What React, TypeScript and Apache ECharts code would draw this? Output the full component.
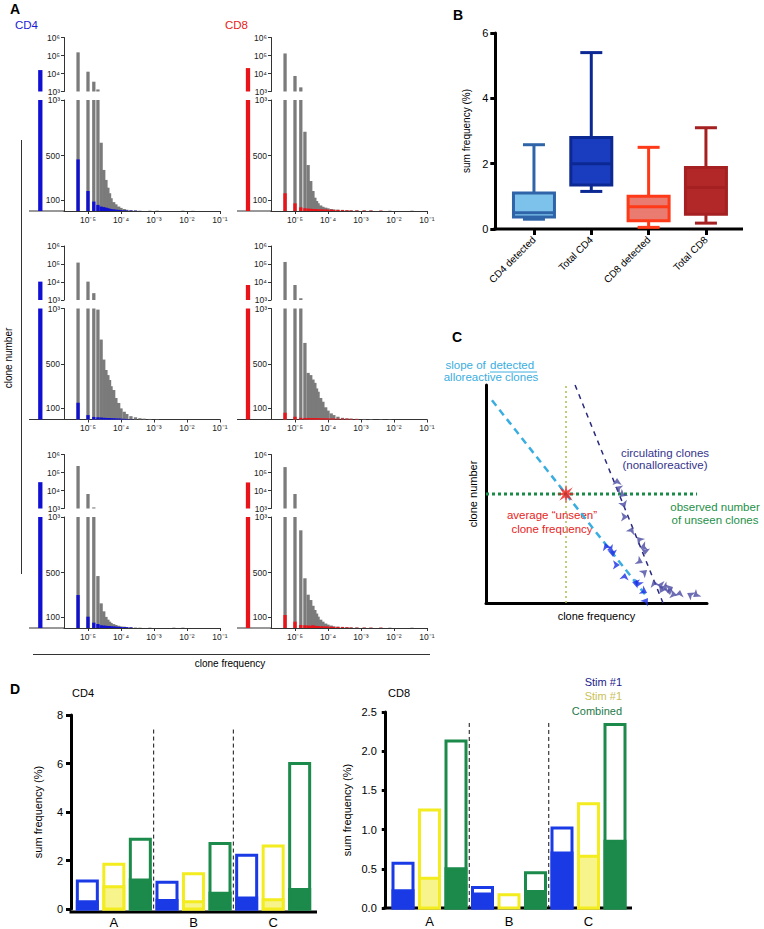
import React, { useEffect, useRef } from "react";
import * as echarts from "echarts";

const FONT = "'Liberation Sans', Arial, Helvetica, sans-serif";

// ---------------- Panel A data ----------------
const BIN_FREQ = [5e-6, 1e-5, 1.5e-5, 2e-5, 2.5e-5, 3e-5, 3.5e-5, 4e-5, 4.5e-5, 5e-5, 6e-5, 7e-5, 8.5e-5, 1e-4, 1.25e-4, 1.5e-4, 2e-4, 2.75e-4, 3.75e-4, 5e-4, 7.5e-4, 1.25e-3, 2e-3, 4e-3, 7.5e-3, 1.5e-2, 3.5e-2];

const GRAY_CD4_R1 = [150000, 12600, 3500, 1300, 615, 370, 280, 210, 160, 115, 80, 60, 40, 28, 18, 12, 8, 5, 3, 0, 3, 3, 0, 0, 3, 2, 0];
const DET_CD4_R1 = [465, 180, 85, 55, 40, 35, 30, 25, 20, 18, 15, 12, 10, 8, 6, 5, 4, 3, 0, 0, 0, 0, 0, 0, 0, 0, 0];
const GRAY_CD8_R1 = [130000, 7300, 1700, 714, 414, 270, 180, 120, 90, 70, 50, 38, 30, 24, 18, 14, 12, 10, 8, 6, 6, 5, 5, 3, 3, 0, 3];
const DET_CD8_R1 = [160, 69, 33, 25, 22, 20, 18, 18, 16, 15, 15, 14, 13, 12, 12, 10, 10, 8, 6, 5, 5, 4, 4, 3, 0, 0, 0];
const GRAY_CD4_R2 = [120000, 10500, 2400, 990, 720, 540, 446, 400, 356, 300, 266, 194, 149, 100, 70, 50, 30, 20, 12, 8, 5, 3, 0, 0, 0, 0, 0];
const DET_CD4_R2 = [151, 40, 23, 20, 18, 15, 14, 13, 12, 12, 11, 10, 9, 8, 6, 5, 3, 0, 0, 0, 0, 0, 0, 0, 0, 0, 0];
const GRAY_CD8_R2 = [130000, 6800, 1250, 690, 420, 400, 360, 330, 280, 250, 194, 160, 110, 80, 55, 40, 25, 15, 10, 8, 6, 5, 4, 3, 3, 0, 0];
const DET_CD8_R2 = [61, 25, 15, 14, 14, 13, 13, 12, 12, 12, 11, 11, 10, 10, 9, 9, 8, 8, 8, 6, 5, 0, 0, 0, 0, 0, 0];
const GRAY_CD4_R3 = [230000, 6400, 1150, 468, 222, 150, 100, 75, 57, 45, 35, 27, 20, 14, 12, 9, 7, 4, 3, 0, 3, 0, 0, 3, 3, 0, 0];
const DET_CD4_R3 = [297, 102, 48, 36, 25, 22, 20, 18, 17, 15, 14, 12, 10, 9, 8, 6, 5, 0, 0, 0, 0, 0, 0, 0, 0, 0, 0];
const GRAY_CD8_R3 = [200000, 6400, 880, 448, 300, 252, 200, 162, 130, 102, 75, 57, 40, 30, 22, 15, 12, 10, 8, 6, 5, 4, 3, 3, 3, 0, 3];
const DET_CD8_R3 = [117, 57, 27, 25, 22, 20, 25, 20, 18, 18, 15, 15, 14, 13, 12, 10, 10, 8, 6, 4, 3, 3, 3, 3, 0, 0, 0];
const TOTAL_CD4 = [15500, 10500, 29000];
const TOTAL_CD8 = [20000, 6800, 28000];

const X_TICKS = [1e-5, 1e-4, 1e-3, 1e-2, 1e-1];
const Y_UP_TICKS = [1e3, 1e4, 1e5, 1e6];
const Y_LOW_TICKS = [100, 500, 1000];

// ---------------- Panel B data ----------------
const B_CATS = ["CD4 detected", "Total CD4", "CD8 detected", "Total CD8"];
const B_MIN = [0.3, 1.15, 0.05, 0.18];
const B_Q1 = [0.37, 1.35, 0.25, 0.45];
const B_MED = [0.5, 2.0, 0.68, 1.27];
const B_Q3 = [1.1, 2.8, 1.0, 1.88];
const B_MAX = [2.58, 5.4, 2.5, 3.1];

// ---------------- Panel C data (schematic units 0-100) ----------------
const C_DETECTED_SLOPE = [[2.7, 93], [72.9, 2.8]];
const C_CIRC_SLOPE = [[40.3, 100], [80.1, 0]];
const C_UNSEEN_NUMBER = [[0, 50], [95.5, 50]];
const C_UNSEEN_FREQ = [[36.2, 0], [36.2, 100]];
const C_STAR = [[36.2, 50]];
const C_CIRC_PTS = [[59.3, 57.3], [58.4, 53.2], [60.6, 48.6], [62.9, 43.6], [64.3, 39.4], [66.5, 34.9], [68.3, 30.3], [69.7, 25.2], [71.9, 22.0], [71.0, 18.3], [72.9, 15.1], [75.6, 10.6], [77.4, 8.3], [78.7, 4.6], [81.9, 6.0], [84.6, 7.3], [87.8, 6.0], [91.0, 4.6], [93.7, 2.8], [83.3, 3.7], [86.4, 3.7]];
const C_DET_PTS = [[53.8, 27.5], [54.8, 24.3], [57.5, 21.1], [60.6, 17.4], [62.9, 13.8], [66.1, 9.6], [68.3, 7.3], [72.9, 4.6], [73.3, 2.3]];

// ---------------- Panel D data ----------------
const D_GROUPS = ["A", "B", "C"];
const D_CD4_STIM1_TOTAL = [1.15, 1.1, 2.22];
const D_CD4_STIM1_SOLID = [0.3, 0.35, 0.45];
const D_CD4_STIM2_TOTAL = [1.85, 1.45, 2.6];
const D_CD4_STIM2_SOLID = [0.92, 0.3, 0.38];
const D_CD4_COMB_TOTAL = [2.88, 2.7, 6.0];
const D_CD4_COMB_SOLID = [1.2, 0.65, 0.8];
const D_CD8_STIM1_TOTAL = [0.57, 0.26, 1.02];
const D_CD8_STIM1_SOLID = [0.22, 0.18, 0.7];
const D_CD8_STIM2_TOTAL = [1.25, 0.17, 1.33];
const D_CD8_STIM2_SOLID = [0.38, 0, 0.66];
const D_CD8_COMB_TOTAL = [2.13, 0.45, 2.34];
const D_CD8_COMB_SOLID = [0.5, 0.21, 0.85];

// ---------------- styling ----------------
const BLUE = "#1010d2";
const RED = "#e8141a";
const GRAY = "#7b7b7b";
const AXC = "#333";
const B_FILL = ["#7cc2ea", "#1a3cbf", "#ea7b70", "#b22828"];
const B_STROKE = ["#2f64a8", "#0c2893", "#ff3a18", "#a52020"];
const D_COL = [
  { stroke: "#1a3ae6", fill: "#1a3ae6" },
  { stroke: "#f3ec1e", fill: "#f7f48c" },
  { stroke: "#1b8a4a", fill: "#1b8a4a" },
];

const SUP: Record<string, string> = { "-": "\u207B", "0": "\u2070", "1": "\u00B9", "2": "\u00B2", "3": "\u00B3", "4": "\u2074", "5": "\u2075", "6": "\u2076" };
const pow10 = (v: number) => {
  const e = Math.round(Math.log10(v));
  return "10" + String(e).split("").map((c) => SUP[c]).join("");
};

const ASTERISK = (() => {
  const pts: string[] = [];
  for (let i = 0; i < 16; i++) {
    const a = (i * Math.PI) / 8 - Math.PI / 2;
    const r = i % 2 === 0 ? 10 : 3.6;
    pts.push(`${(10 + r * Math.cos(a)).toFixed(2)} ${(10 + r * Math.sin(a)).toFixed(2)}`);
  }
  return "path://M" + pts.join(" L") + " Z";
})();

function buildOption() {
  const grid: any[] = [];
  const xAxis: any[] = [];
  const yAxis: any[] = [];
  const series: any[] = [];
  const graphic: any[] = [];

  const COLS = [
    { axisX: 64, totalX: 40.3, baseStart: 29 },
    { axisX: 271, totalX: 248, baseStart: 237 },
  ];
  const ROW_DY = 208.5;
  const UP_TOP = 37.5, UP_H = 54, LOW_TOP = 100, LOW_H = 111, HIST_W = 156;
  const XMIN = 1.875e-6;

  const panels = [
    { row: 0, col: 0, gray: GRAY_CD4_R1, det: DET_CD4_R1, total: TOTAL_CD4[0], color: BLUE },
    { row: 0, col: 1, gray: GRAY_CD8_R1, det: DET_CD8_R1, total: TOTAL_CD8[0], color: RED },
    { row: 1, col: 0, gray: GRAY_CD4_R2, det: DET_CD4_R2, total: TOTAL_CD4[1], color: BLUE },
    { row: 1, col: 1, gray: GRAY_CD8_R2, det: DET_CD8_R2, total: TOTAL_CD8[1], color: RED },
    { row: 2, col: 0, gray: GRAY_CD4_R3, det: DET_CD4_R3, total: TOTAL_CD4[2], color: BLUE },
    { row: 2, col: 1, gray: GRAY_CD8_R3, det: DET_CD8_R3, total: TOTAL_CD8[2], color: RED },
  ];

  const barRender = (lo: number, hi: number, w: number, fill: string) => (params: any, api: any) => {
    const x = api.value(0);
    const v = api.value(1);
    if (!(v > lo)) return null;
    const top = Math.min(v, hi);
    const p0 = api.coord([x, lo]);
    const p1 = api.coord([x, top]);
    return { type: "rect", shape: { x: p0[0] - w / 2, y: p1[1], width: w, height: p0[1] - p1[1] }, style: { fill } };
  };

  const lblStyle = { fontSize: 8.5, color: "#222", fontFamily: FONT };

  panels.forEach((p) => {
    const c = COLS[p.col];
    const dy = p.row * ROW_DY;
    const g0 = grid.length;
    grid.push({ left: c.axisX, top: UP_TOP + dy, width: HIST_W, height: UP_H });
    grid.push({ left: c.axisX, top: LOW_TOP + dy, width: HIST_W, height: LOW_H });
    grid.push({ left: c.totalX - 5, top: UP_TOP + dy, width: 10, height: UP_H });
    grid.push({ left: c.totalX - 5, top: LOW_TOP + dy, width: 10, height: LOW_H });

    xAxis.push({ gridIndex: g0, type: "log", min: XMIN, max: 0.1, show: false });
    xAxis.push({
      gridIndex: g0 + 1, type: "log", min: XMIN, max: 0.1,
      axisLine: { show: true, lineStyle: { color: AXC, width: 1 } },
      axisTick: { show: true, customValues: X_TICKS, length: 3, lineStyle: { color: AXC } },
      axisLabel: { customValues: X_TICKS, formatter: (v: number) => pow10(v), margin: 4, ...lblStyle },
      splitLine: { show: false },
    });
    xAxis.push({ gridIndex: g0 + 2, type: "value", min: 0, max: 1, show: false });
    xAxis.push({ gridIndex: g0 + 3, type: "value", min: 0, max: 1, show: false });

    yAxis.push({
      gridIndex: g0, type: "log", min: 1e3, max: 1e6,
      axisLine: { show: true, lineStyle: { color: AXC, width: 1 } },
      axisTick: { show: true, customValues: Y_UP_TICKS, length: 3, lineStyle: { color: AXC } },
      axisLabel: { customValues: Y_UP_TICKS, formatter: (v: number) => pow10(v), margin: 4, ...lblStyle },
      splitLine: { show: false },
    });
    yAxis.push({
      gridIndex: g0 + 1, type: "value", min: 0, max: 1000,
      axisLine: { show: true, lineStyle: { color: AXC, width: 1 } },
      axisTick: { show: true, customValues: Y_LOW_TICKS, length: 3, lineStyle: { color: AXC } },
      axisLabel: { customValues: Y_LOW_TICKS, formatter: (v: number) => (v === 1000 ? pow10(1000) : String(v)), margin: 4, ...lblStyle },
      splitLine: { show: false },
    });
    yAxis.push({ gridIndex: g0 + 2, type: "log", min: 1e3, max: 1e6, show: false });
    yAxis.push({ gridIndex: g0 + 3, type: "value", min: 0, max: 1000, show: false });

    const grayData = BIN_FREQ.map((f, i) => [f, p.gray[i]]);
    const detData = BIN_FREQ.map((f, i) => [f, p.det[i]]);
    series.push({
      type: "custom", xAxisIndex: g0, yAxisIndex: g0, silent: true,
      data: grayData.filter((d) => d[1] > 1000), encode: { x: 0, y: 1 },
      renderItem: barRender(1e3, 1e6, 3.3, GRAY),
    });
    series.push({
      type: "custom", xAxisIndex: g0 + 1, yAxisIndex: g0 + 1, silent: true,
      data: grayData, encode: { x: 0, y: 1 },
      renderItem: barRender(0, 1000, 3.3, GRAY),
    });
    series.push({
      type: "custom", xAxisIndex: g0 + 1, yAxisIndex: g0 + 1, silent: true,
      data: detData, encode: { x: 0, y: 1 },
      renderItem: barRender(0, 1000, 3.3, p.color),
    });
    series.push({
      type: "custom", xAxisIndex: g0 + 2, yAxisIndex: g0 + 2, silent: true,
      data: [[0.5, p.total]], encode: { x: 0, y: 1 },
      renderItem: barRender(1e3, 1e6, 4.3, p.color),
    });
    series.push({
      type: "custom", xAxisIndex: g0 + 3, yAxisIndex: g0 + 3, silent: true,
      data: [[0.5, p.total]], encode: { x: 0, y: 1 },
      renderItem: barRender(0, 1000, 4.3, p.color),
    });

    const by = LOW_TOP + LOW_H + dy;
    graphic.push({ type: "line", shape: { x1: c.baseStart, y1: by, x2: c.axisX, y2: by }, style: { stroke: AXC, lineWidth: 1 } });
  });

  // ---------------- Panel B ----------------
  const gB = grid.length;
  grid.push({ left: 505.3, top: 33, width: 229.3, height: 196 });
  xAxis.push({
    gridIndex: gB, type: "category", data: B_CATS,
    axisLine: { show: false },
    axisTick: { show: true, alignWithLabel: true, length: 6, lineStyle: { color: "#000", width: 3 } },
    axisLabel: { rotate: 45, interval: 0, fontSize: 10, color: "#000", margin: 9, fontFamily: FONT },
  });
  yAxis.push({
    gridIndex: gB, type: "value", min: 0, max: 6, interval: 2, offset: 10,
    axisLine: { show: true, lineStyle: { color: "#000", width: 3 } },
    axisTick: { show: true, length: 5, lineStyle: { color: "#000", width: 3 } },
    axisLabel: { fontSize: 11, color: "#000", margin: 7, fontFamily: FONT },
    splitLine: { show: false },
    name: "sum frequency (%)", nameLocation: "middle", nameGap: 24,
    nameTextStyle: { fontSize: 10, color: "#000", fontFamily: FONT },
  });
  series.push({
    type: "custom", xAxisIndex: gB, yAxisIndex: gB, silent: true,
    encode: { x: 0, y: [1, 2, 3, 4, 5] },
    data: B_CATS.map((_, i) => [i, B_MIN[i], B_Q1[i], B_MED[i], B_Q3[i], B_MAX[i]]),
    renderItem: (params: any, api: any) => {
      const i = api.value(0);
      const cx = api.coord([i, 0])[0];
      const yv = [1, 2, 3, 4, 5].map((k) => api.coord([i, api.value(k)])[1]);
      const [yMin, yQ1, yMed, yQ3, yMax] = yv;
      const s = B_STROKE[i];
      const ls = { stroke: s, lineWidth: 3 };
      const bw = 41, cw = 22;
      return {
        type: "group",
        children: [
          { type: "line", shape: { x1: cx, y1: yMax, x2: cx, y2: yQ3 }, style: ls },
          { type: "line", shape: { x1: cx, y1: yQ1, x2: cx, y2: yMin }, style: ls },
          { type: "line", shape: { x1: cx - cw / 2, y1: yMax, x2: cx + cw / 2, y2: yMax }, style: ls },
          { type: "line", shape: { x1: cx - cw / 2, y1: yMin, x2: cx + cw / 2, y2: yMin }, style: ls },
          { type: "rect", shape: { x: cx - bw / 2, y: yQ3, width: bw, height: yQ1 - yQ3 }, style: { fill: B_FILL[i], stroke: s, lineWidth: 3 } },
          { type: "line", shape: { x1: cx - bw / 2, y1: yMed, x2: cx + bw / 2, y2: yMed }, style: ls },
        ],
      };
    },
  });
  graphic.push({ type: "line", shape: { x1: 493.5, y1: 229, x2: 743, y2: 229 }, style: { stroke: "#000", lineWidth: 3 } });

  // ---------------- Panel C ----------------
  const gC = grid.length;
  grid.push({ left: 486, top: 385, width: 221, height: 218 });
  xAxis.push({
    gridIndex: gC, type: "value", min: 0, max: 100,
    axisLine: { show: true, lineStyle: { color: "#000", width: 3 } },
    axisTick: { show: false }, axisLabel: { show: false }, splitLine: { show: false },
    name: "clone frequency", nameLocation: "middle", nameGap: 7,
    nameTextStyle: { fontSize: 11, color: "#000", fontFamily: FONT, verticalAlign: "top" },
  });
  yAxis.push({
    gridIndex: gC, type: "value", min: 0, max: 100,
    axisLine: { show: true, lineStyle: { color: "#000", width: 3 } },
    axisTick: { show: false }, axisLabel: { show: false }, splitLine: { show: false },
    name: "clone number", nameLocation: "middle", nameGap: 8,
    nameTextStyle: { fontSize: 11, color: "#000", fontFamily: FONT },
  });
  const lineS = (data: number[][], color: string, width: number, type: any) => ({
    type: "line", xAxisIndex: gC, yAxisIndex: gC, data, symbol: "none", silent: true,
    lineStyle: { color, width, type }, z: 3,
  });
  series.push(lineS(C_UNSEEN_FREQ, "#a6c04a", 1.5, [2, 3]));
  series.push(lineS(C_UNSEEN_NUMBER, "#1a8a48", 3, [3, 3]));
  series.push(lineS(C_DETECTED_SLOPE, "#3aaee0", 2.5, [7, 5]));
  series.push(lineS(C_CIRC_SLOPE, "#2a2a7e", 1.5, [5, 5]));
  series.push({
    type: "scatter", xAxisIndex: gC, yAxisIndex: gC, data: C_CIRC_PTS, silent: true,
    symbol: "arrow", symbolSize: 7, symbolRotate: (v: any, pr: any) => (pr.dataIndex * 67) % 360,
    itemStyle: { color: "#4a4aa2" }, z: 4,
  });
  series.push({
    type: "scatter", xAxisIndex: gC, yAxisIndex: gC, data: C_DET_PTS, silent: true,
    symbol: "arrow", symbolSize: 7, symbolRotate: (v: any, pr: any) => (pr.dataIndex * 83 + 20) % 360,
    itemStyle: { color: "#1a2ee6" }, z: 4,
  });
  series.push({
    type: "scatter", xAxisIndex: gC, yAxisIndex: gC, data: C_STAR, silent: true,
    symbol: ASTERISK, symbolSize: 19, itemStyle: { color: "#ec2020" }, z: 5,
  });

  // ---------------- Panel D ----------------
  const dRender = (params: any, api: any) => {
    const cat = api.value(0), total = api.value(1), solid = api.value(2), ci = api.value(3);
    const c0 = api.coord([cat, 0]);
    const cx = c0[0] + (ci - 1) * 26.5;
    const yT = api.coord([cat, total])[1];
    const yS = api.coord([cat, solid])[1];
    const col = D_COL[ci];
    const children: any[] = [
      { type: "rect", shape: { x: cx - 10, y: yT, width: 20, height: c0[1] - yT }, style: { fill: "#fff", stroke: col.stroke, lineWidth: 3 } },
    ];
    if (solid > 0) {
      children.push({ type: "rect", shape: { x: cx - 10, y: yS, width: 20, height: c0[1] - yS }, style: { fill: col.fill, stroke: col.stroke, lineWidth: 3 } });
    }
    return { type: "group", children };
  };
  const sepRender = (params: any, api: any) => {
    const cat = api.value(0);
    const band = api.size([1, 0])[0];
    const p0 = api.coord([cat, 0]);
    const p1 = api.coord([cat, api.value(1)]);
    const x = p0[0] - band / 2;
    return { type: "line", shape: { x1: x, y1: p1[1], x2: x, y2: p0[1] }, style: { stroke: "#111", lineWidth: 1, lineDash: [4, 3] } };
  };
  const dPanels = [
    {
      left: 74, top: 715, width: 239, height: 197, max: 8, interval: 2, offset: 3, nameGap: 28, sep: 7.4, fmt: (v: number) => String(v),
      totals: [D_CD4_STIM1_TOTAL, D_CD4_STIM2_TOTAL, D_CD4_COMB_TOTAL], solids: [D_CD4_STIM1_SOLID, D_CD4_STIM2_SOLID, D_CD4_COMB_SOLID],
      line: [71, 912, 317],
    },
    {
      left: 389.75, top: 712, width: 238.5, height: 196, max: 2.5, interval: 0.5, offset: 5, nameGap: 32, sep: 2.36, fmt: (v: number) => v.toFixed(1),
      totals: [D_CD8_STIM1_TOTAL, D_CD8_STIM2_TOTAL, D_CD8_COMB_TOTAL], solids: [D_CD8_STIM1_SOLID, D_CD8_STIM2_SOLID, D_CD8_COMB_SOLID],
      line: [385, 908, 632],
    },
  ];
  dPanels.forEach((d, k) => {
    const gi = grid.length;
    grid.push({ left: d.left, top: d.top, width: d.width, height: d.height });
    xAxis.push({
      gridIndex: gi, type: "category", data: D_GROUPS,
      axisLine: { show: false }, axisTick: { show: false },
      axisLabel: { fontSize: 13, color: "#000", margin: 7, fontFamily: FONT },
    });
    yAxis.push({
      gridIndex: gi, type: "value", min: 0, max: d.max, interval: d.interval, offset: d.offset,
      axisLine: { show: true, lineStyle: { color: "#000", width: 3 } },
      axisTick: { show: true, length: k === 0 ? 5 : 3, lineStyle: { color: "#000", width: 3 } },
      axisLabel: { fontSize: 11, color: "#000", margin: 8, formatter: d.fmt, fontFamily: FONT },
      splitLine: { show: false },
      name: "sum frequency (%)", nameLocation: "middle", nameGap: d.nameGap,
      nameTextStyle: { fontSize: 11, color: "#000", fontFamily: FONT },
    });
    const data: number[][] = [];
    D_GROUPS.forEach((_, gIdx) => {
      for (let ci = 0; ci < 3; ci++) data.push([gIdx, d.totals[ci][gIdx], d.solids[ci][gIdx], ci]);
    });
    series.push({
      type: "custom", xAxisIndex: gi, yAxisIndex: gi, silent: true,
      encode: { x: 0, y: [1, 2] }, data, renderItem: dRender,
    });
    series.push({
      type: "custom", xAxisIndex: gi, yAxisIndex: gi, silent: true,
      encode: { x: 0, y: 1 }, data: [[1, d.sep], [2, d.sep]], renderItem: sepRender,
    });
    graphic.push({ type: "line", shape: { x1: d.line[0] - 1.5, y1: d.line[1], x2: d.line[2], y2: d.line[1] }, style: { stroke: "#000", lineWidth: 3 } });
  });

  // ---------------- annotations ----------------
  const txt = (text: string, x: number, y: number, o: any = {}) => ({
    type: "text", x, y, rotation: o.rotation || 0, silent: true,
    style: {
      text, x: 0, y: 0, fill: o.fill || "#000", fontSize: o.fontSize || 11, fontWeight: o.fontWeight || "normal",
      fontFamily: FONT, align: o.align || "left", verticalAlign: "middle",
    },
  });
  graphic.push(txt("A", 10, 9, { fontSize: 14, fontWeight: "bold" }));
  graphic.push(txt("B", 453, 15, { fontSize: 14, fontWeight: "bold" }));
  graphic.push(txt("C", 452, 337, { fontSize: 14, fontWeight: "bold" }));
  graphic.push(txt("D", 10, 689, { fontSize: 14, fontWeight: "bold" }));
  graphic.push(txt("CD4", 15, 25, { fontSize: 11.5, fill: "#1a1ad6" }));
  graphic.push(txt("CD8", 225, 25, { fontSize: 11.5, fill: "#e81a1a" }));
  graphic.push(txt("clone number", 8, 358, { fontSize: 10, rotation: Math.PI / 2, align: "center" }));
  graphic.push({ type: "line", shape: { x1: 21.5, y1: 140, x2: 21.5, y2: 574 }, style: { stroke: AXC, lineWidth: 1 } });
  graphic.push({ type: "line", shape: { x1: 33, y1: 654.5, x2: 430, y2: 654.5 }, style: { stroke: AXC, lineWidth: 1 } });
  graphic.push(txt("clone frequency", 230, 663, { fontSize: 10, align: "center" }));

  graphic.push(txt("CD4", 72, 693, { fontSize: 11 }));
  graphic.push(txt("CD8", 388, 693, { fontSize: 11 }));
  graphic.push(txt("Stim #1", 622, 682, { fontSize: 11, fill: "#1b1b8c", align: "right" }));
  graphic.push(txt("Stim #1", 622, 696, { fontSize: 11, fill: "#c9c15a", align: "right" }));
  graphic.push(txt("Combined", 622, 711, { fontSize: 11, fill: "#1e7a48", align: "right" }));

  const lb = "#3aaee0";
  graphic.push(txt("slope of ", 489, 365, { fontSize: 11.5, fill: lb, align: "right" }));
  graphic.push(txt("detected", 490, 365, { fontSize: 11.5, fill: lb }));
  graphic.push({ type: "line", shape: { x1: 490, y1: 372, x2: 537, y2: 372 }, style: { stroke: lb, lineWidth: 1 } });
  graphic.push(txt("alloreactive clones", 491, 377, { fontSize: 11.5, fill: lb, align: "center" }));
  graphic.push(txt("circulating clones", 665, 453, { fontSize: 11.5, fill: "#34348c", align: "center" }));
  graphic.push(txt("(nonalloreactive)", 665, 465, { fontSize: 11.5, fill: "#34348c", align: "center" }));
  graphic.push(txt("average \u201Cunseen\u201D", 552, 515, { fontSize: 11.5, fill: "#e82424", align: "center" }));
  graphic.push(txt("clone frequency", 552, 529, { fontSize: 11.5, fill: "#e82424", align: "center" }));
  graphic.push(txt("observed number", 715, 507, { fontSize: 11.5, fill: "#1e9048", align: "center" }));
  graphic.push(txt("of unseen clones", 715, 520, { fontSize: 11.5, fill: "#1e9048", align: "center" }));

  return {
    animation: false,
    backgroundColor: "#fff",
    textStyle: { fontFamily: FONT },
    grid, xAxis, yAxis, series, graphic,
  };
}

export default function App() {
  const ref = useRef<HTMLDivElement>(null);
  useEffect(() => {
    if (!ref.current) return;
    const chart = echarts.init(ref.current, null, { renderer: "svg" });
    chart.setOption(buildOption() as any);
    return () => chart.dispose();
  }, []);
  return <div ref={ref} style={{ position: "absolute", left: 0, top: 0, width: 764, height: 929 }} />;
}
